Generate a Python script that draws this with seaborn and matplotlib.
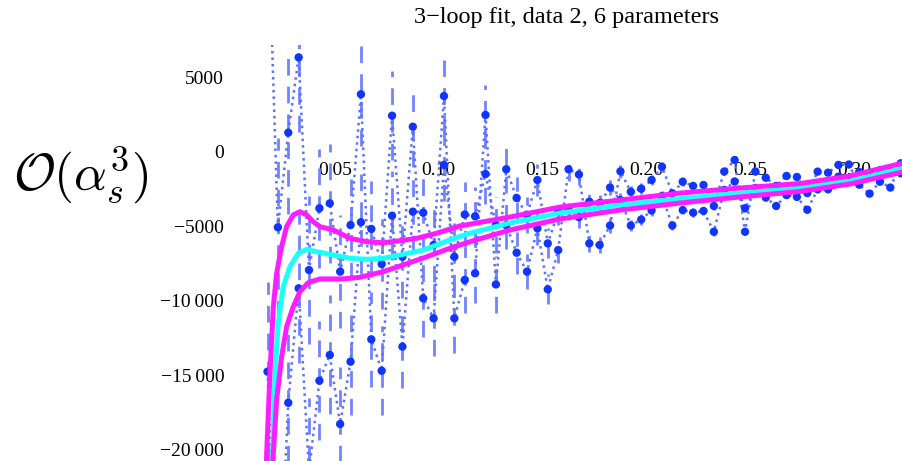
import matplotlib
matplotlib.use("Agg")
import matplotlib.pyplot as plt
import seaborn as sns
import pandas as pd

# ---------------- data ----------------
x_vals = [0.0175, 0.0225, 0.0275, 0.0325, 0.0375, 0.0425, 0.0475, 0.0525, 0.0575, 0.0625,
          0.0675, 0.0725, 0.0775, 0.0825, 0.0875, 0.0925, 0.0975, 0.1025, 0.1075, 0.1125,
          0.1175, 0.1225, 0.1275, 0.1325, 0.1375, 0.1425, 0.1475, 0.1525, 0.1575, 0.1625,
          0.1675, 0.1725, 0.1775, 0.1825, 0.1875, 0.1925, 0.1975, 0.2025, 0.2075, 0.2125,
          0.2175, 0.2225, 0.2275, 0.2325, 0.2375, 0.2425, 0.2475, 0.2525, 0.2575, 0.2625,
          0.2675, 0.2725, 0.2775, 0.2825, 0.2875, 0.2925, 0.2975, 0.3025, 0.3075, 0.3125,
          0.3175, 0.3225]

series_a = [17000, -5060, 1300, 6360, -7930, -3780, -3450, -8040, -4910, 3880,
            -12590, -14700, -4280, -13080, -4010, -4080, -6250, 3760, -11180, -8600,
            -8150, 2490, -8900, -1160, -3090, -4230, -1880, -6140, -4030, -3760,
            -4380, -3340, -3430, -2390, -3230, -4940, -4540, -3930, -2960, -4940,
            -3900, -4080, -3960, -5360, -2550, -1980, -3780, -2420, -3060, -3630,
            -2890, -3020, -3880, -2510, -2510, -1660, -1750, -1340, -1550, -1230,
            -1340, -1430]

series_b = [-14760, -32000, -16850, -9160, -21500, -15370, -13640, -18280, -14090, -4720,
            -5170, -7530, 2440, -7040, 1700, -9830, -11180, -870, -7040, -4200,
            -4320, -1480, -4910, -4910, -6770, -8040, -5130, -9230, -6590, -1160,
            -1510, -6140, -6250, -4940, -1300, -2670, -2470, -1880, -990, -2780,
            -2000, -2280, -2220, -3630, -1310, -540, -5360, -1310, -1730, -2280,
            -1610, -1680, -2760, -1320, -1390, -870, -840, -2200, -2800, -2000,
            -2390, -760]

errors = [6000, 6000, 5500, 5000, 5000, 4000, 4000, 3800, 3600, 3500,
          3200, 3000, 3000, 2800, 2700, 2600, 2500, 2400, 2300, 2200,
          2000, 2000, 1900, 1600, 1400, 1200, 1100, 1000, 900, 800,
          700, 600, 550, 500, 450, 400, 380, 360, 340, 320,
          300, 290, 280, 270, 260, 250, 240, 230, 220, 210,
          200, 200, 190, 190, 180, 180, 170, 170, 160, 160,
          150, 150]

upper_x = [0.0168, 0.0171, 0.0187, 0.0203, 0.0219, 0.0243, 0.0267, 0.0299, 0.0331, 0.0364,
           0.0395, 0.0428, 0.0492, 0.0572, 0.0653, 0.0733, 0.0813, 0.0894, 0.0990, 0.1102,
           0.1343, 0.1584, 0.1873, 0.2162, 0.2451, 0.2740, 0.2981, 0.3236]
upper_y = [-22000, -20250, -14870, -10400, -8150, -6360, -5020, -4230, -4010, -4230,
           -4680, -5020, -5240, -5800, -6030, -6100, -5960, -5800, -5460, -4970,
           -4370, -3700, -3230, -2760, -2420, -2120, -1610, -740]

mid_x = [0.0194, 0.0200, 0.0211, 0.0227, 0.0251, 0.0283, 0.0323, 0.0364, 0.0412, 0.0492,
         0.0572, 0.0653, 0.0733, 0.0813, 0.0925, 0.1053, 0.1150, 0.1343, 0.1584, 0.1873,
         0.2162, 0.2451, 0.2740, 0.2981, 0.3236]
mid_y = [-21370, -20230, -14850, -11490, -9050, -7710, -6810, -6540, -6700, -6920,
         -7140, -7210, -7140, -6920, -6590, -5910, -5460, -4770, -4100, -3560,
         -3130, -2760, -2420, -1950, -1080]

lower_x = [0.0199, 0.0203, 0.0219, 0.0243, 0.0267, 0.0299, 0.0331, 0.0371, 0.0428, 0.0540,
           0.0620, 0.0733, 0.0829, 0.0942, 0.1053, 0.1150, 0.1343, 0.1584, 0.1873, 0.2162,
           0.2451, 0.2740, 0.2981, 0.3236]
lower_y = [-21370, -20250, -16670, -13760, -11740, -10400, -9390, -8780, -8530, -8530,
           -8420, -8040, -7590, -7040, -6470, -6030, -5240, -4500, -3900, -3430,
           -3020, -2650, -2150, -1340]

x_ticks = [0.05, 0.10, 0.15, 0.20, 0.25, 0.30]
x_tick_labels = ["0.05", "0.10", "0.15", "0.20", "0.25", "0.30"]
y_ticks = [-20000, -15000, -10000, -5000, 0, 5000]
y_tick_labels = ["\u221220\u2009000", "\u221215\u2009000", "\u221210\u2009000", "\u22125000", "0", "5000"]
title_text = "3\u2212loop fit, data 2, 6 parameters"
ylabel_text = r"$\mathcal{O}(\alpha_s^3)$"

# ---------------- styling ----------------
sns.set_theme(style="white")
plt.rcParams["font.family"] = ["Liberation Serif", "DejaVu Serif"]
plt.rcParams["mathtext.fontset"] = "cm"
plt.rcParams["text.color"] = "black"
plt.rcParams["xtick.color"] = "black"
plt.rcParams["ytick.color"] = "black"
plt.rcParams["xtick.labelcolor"] = "black"
plt.rcParams["ytick.labelcolor"] = "black"

POINT = "#1035ff"
JOIN = "#5d70ff"
BAR = "#7183ff"
MAGENTA = "#ff1cff"
CYAN = "#1cffff"

fig = plt.figure(figsize=(9.03, 4.61), dpi=100)
ax = fig.add_axes([0.2560, 0.0, 0.7440, 0.9024])
ax.set_facecolor("white")

df = pd.DataFrame({"x": x_vals, "a": series_a, "b": series_b, "err": errors})

# error bars
for col in ["a", "b"]:
    ax.vlines(df["x"], df[col] - df["err"], df[col] + df["err"],
              colors=BAR, linewidth=2.0, linestyles=(0, (6, 4)), zorder=1)

# joining dotted lines
for col in ["a", "b"]:
    sns.lineplot(data=df, x="x", y=col, ax=ax, color=JOIN, linewidth=1.8,
                 linestyle=(0, (1, 1.6)), sort=False, estimator=None, zorder=2)

# points
for col in ["a", "b"]:
    sns.scatterplot(data=df, x="x", y=col, ax=ax, color=POINT, s=36,
                    edgecolor="none", linewidth=0, zorder=3)

# fit curves
sns.lineplot(x=mid_x, y=mid_y, ax=ax, color=CYAN, linewidth=3.6, sort=False,
             estimator=None, zorder=4)
sns.lineplot(x=upper_x, y=upper_y, ax=ax, color=MAGENTA, linewidth=3.6, sort=False,
             estimator=None, zorder=5)
sns.lineplot(x=lower_x, y=lower_y, ax=ax, color=MAGENTA, linewidth=3.6, sort=False,
             estimator=None, zorder=5)

ax.set_xlim(0.0, 0.3236)
ax.set_ylim(-20765, 7190)

for s in ax.spines.values():
    s.set_visible(False)
ax.spines["bottom"].set_position(("data", 0))

ax.set_xticks(x_ticks)
ax.set_xticklabels(x_tick_labels, fontsize=14, color="black")
ax.set_yticks(y_ticks)
ax.set_yticklabels(y_tick_labels, fontsize=14, color="black")
ax.tick_params(axis="x", length=0, pad=7)
ax.tick_params(axis="y", length=0, pad=5)
ax.set_xlabel("")
ax.set_ylabel("")
ax.grid(False)

fig.text(567 / 903, 1 - 17 / 461, title_text, ha="center", va="center",
         fontsize=17.5, color="black")
fig.text(13 / 903, 1 - 190 / 461, ylabel_text, ha="left", va="baseline",
         fontsize=37, color="black")

fig.savefig("out.png", dpi=100)
